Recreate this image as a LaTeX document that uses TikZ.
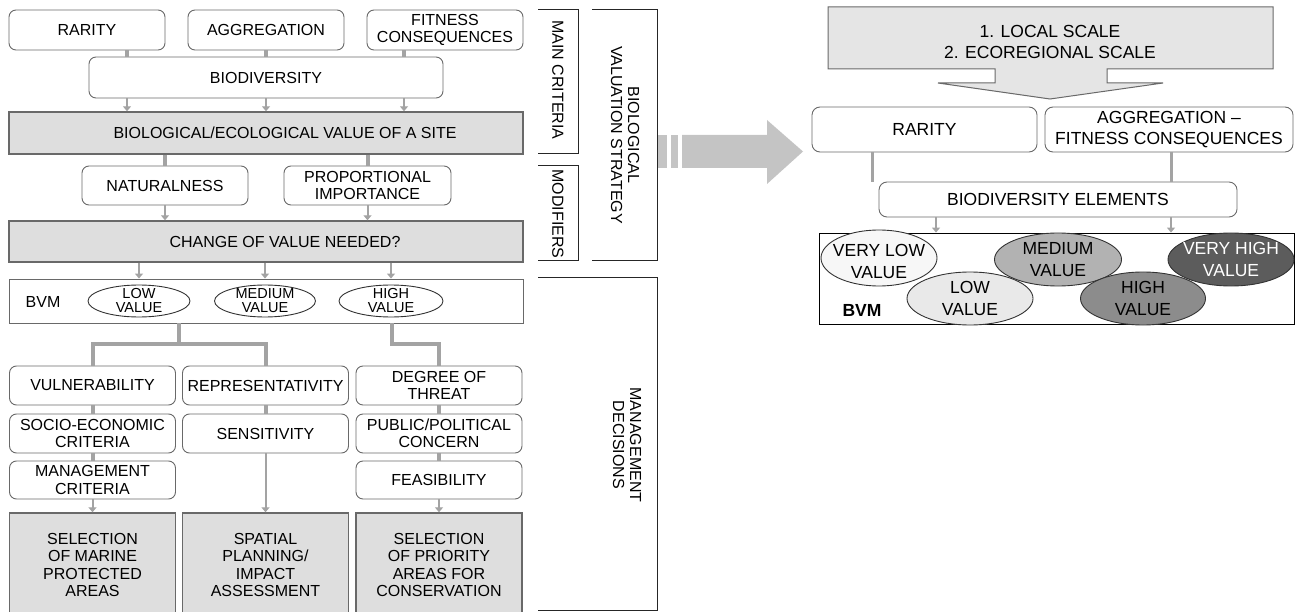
\documentclass[tikz,border=0pt]{standalone}
\usepackage{fontspec}
\setmainfont{Liberation Sans}
\usetikzlibrary{shapes.geometric,arrows.meta}

\definecolor{boxgray}{RGB}{105,105,105}
\definecolor{linegray}{RGB}{163,163,163}
\definecolor{fillgray}{RGB}{222,222,222}
\definecolor{arrowgray}{RGB}{196,196,196}
\definecolor{scalegray}{RGB}{229,229,229}
\definecolor{vlowfill}{RGB}{247,247,247}
\definecolor{lowfill}{RGB}{233,233,233}
\definecolor{medfill}{RGB}{178,178,178}
\definecolor{highfill}{RGB}{140,140,140}
\definecolor{vhighfill}{RGB}{92,92,92}

\newcommand{\lsize}{\fontsize{16}{17.5}\selectfont}
\newcommand{\rsize}{\fontsize{17.5}{21}\selectfont}

\tikzstyle{block} = [draw=boxgray, rectangle, rounded corners=7pt, fill=white, align=center, inner sep=0pt, line width=0.9pt, font=\lsize]
\tikzstyle{graybox} = [draw=boxgray, rectangle, fill=fillgray, align=center, inner sep=0pt, line width=1.4pt, font=\lsize]
\tikzstyle{oval} = [draw=black!80, ellipse, fill=white, inner sep=0pt, line width=0.9pt]
\tikzstyle{ovaltext} = [align=center, inner sep=0pt, font={\fontsize{14.5}{14}\selectfont}]
\tikzstyle{rblock} = [draw=boxgray, rectangle, rounded corners=8pt, fill=white, align=center, inner sep=0pt, line width=0.9pt, font=\rsize]
\tikzstyle{roval} = [draw=black!80, ellipse, inner sep=0pt, line width=0.9pt]
\tikzstyle{rovaltext} = [align=center, inner sep=0pt, font={\fontsize{17.5}{22}\selectfont}]
\tikzstyle{link} = [draw=linegray, line width=4pt]
\tikzstyle{rlink} = [draw=linegray, line width=3pt]
\tikzstyle{arrow} = [draw=linegray, line width=2pt, -{Triangle[width=8pt,length=5pt]}]
\tikzstyle{bracket} = [draw=black!85, line width=1pt]
\tikzstyle{sidetext} = [rotate=-90, align=center, inner sep=0pt, font={\fontsize{16}{17}\selectfont}]

\begin{document}
\begin{tikzpicture}[x=1pt, y=-1pt]
	\useasboundingbox (0,0) rectangle (1295,612);
	\clip (0,0) rectangle (1295,612);

	% Main criteria
	\node [block, minimum width=156pt, minimum height=40pt] (rarity) at (87,30) {RARITY};
	\node [block, minimum width=156pt, minimum height=40pt] (aggregation) at (266,30) {AGGREGATION};
	\node [block, minimum width=156pt, minimum height=40pt] (fitness) at (445,30) {FITNESS\\CONSEQUENCES};
	\node [block, minimum width=354pt, minimum height=41pt] (biodiv) at (266,77.5) {BIODIVERSITY};
	\node [graybox, minimum width=514pt, minimum height=42pt] (siteval) at (266,133) {\hspace*{38pt}BIOLOGICAL/ECOLOGICAL VALUE OF A SITE};

	\draw [link] ([xshift=40pt]rarity.south) -- ([xshift=40pt]rarity.south |- biodiv.north);
	\draw [link] (aggregation.south) -- (biodiv.north);
	\draw [link] ([xshift=-41pt]fitness.south) -- ([xshift=-41pt]fitness.south |- biodiv.north);
	\draw [arrow] ([xshift=-139pt]biodiv.south) -- ([xshift=-139pt]biodiv.south |- siteval.north);
	\draw [arrow] (biodiv.south) -- (siteval.north);
	\draw [arrow] ([xshift=138pt]biodiv.south) -- ([xshift=138pt]biodiv.south |- siteval.north);

	% Modifiers
	\node [block, minimum width=166pt, minimum height=39pt] (natural) at (165,185.5) {NATURALNESS};
	\node [block, minimum width=167pt, minimum height=39pt] (proport) at (367.5,185.5) {PROPORTIONAL\\IMPORTANCE};
	\node [graybox, minimum width=514pt, minimum height=41pt] (change) at (266,241.5) {\hspace*{38pt}CHANGE OF VALUE NEEDED?};

	\draw [link] (natural.north |- siteval.south) -- (natural.north);
	\draw [link] (proport.north |- siteval.south) -- (proport.north);
	\draw [arrow] (natural.south) -- (natural.south |- change.north);
	\draw [arrow] (proport.south) -- (proport.south |- change.north);

	% BVM
	\node [draw=boxgray, rectangle, line width=0.9pt, minimum width=514pt, minimum height=44pt] (bvm) at (266,301) {};
	\node [font=\lsize] (bvmlabel) at (43,302) {BVM};
	\node [oval, minimum width=102pt, minimum height=32pt] (low) at (139,301) {};
	\node [ovaltext] (lowtext) at (low) {LOW\\VALUE};
	\node [oval, minimum width=101pt, minimum height=32pt] (medium) at (265,301) {};
	\node [ovaltext] (mediumtext) at (medium) {MEDIUM\\VALUE};
	\node [oval, minimum width=104pt, minimum height=32pt] (high) at (391,301) {};
	\node [ovaltext] (hightext) at (high) {HIGH\\VALUE};

	\draw [arrow] (low |- change.south) -- (low |- bvm.north);
	\draw [arrow] (medium |- change.south) -- (medium |- bvm.north);
	\draw [arrow] (high |- change.south) -- (high |- bvm.north);

	% Management
	\node [block, minimum width=166pt, minimum height=39pt] (vulner) at (92.5,385.5) {VULNERABILITY};
	\node [block, minimum width=166pt, minimum height=39pt] (repres) at (265.5,385.5) {REPRESENTATIVITY};
	\node [block, minimum width=166pt, minimum height=39pt] (threat) at (439,385.5) {DEGREE OF\\THREAT};
	\node [block, minimum width=166pt, minimum height=39pt] (socio) at (92.5,433.5) {SOCIO-ECONOMIC\\CRITERIA};
	\node [block, minimum width=166pt, minimum height=39pt] (sensit) at (265.5,433.5) {SENSITIVITY};
	\node [block, minimum width=166pt, minimum height=39pt] (public) at (439,433.5) {PUBLIC/POLITICAL\\CONCERN};
	\node [block, minimum width=166pt, minimum height=38pt] (mgmtcrit) at (92.5,480) {MANAGEMENT\\CRITERIA};
	\node [block, minimum width=166pt, minimum height=38pt] (feasib) at (439,480) {FEASIBILITY};
	\node [graybox, minimum width=166pt, minimum height=104pt] (selmpa) at (92.5,565) {SELECTION\\OF MARINE\\PROTECTED\\AREAS};
	\node [graybox, minimum width=166pt, minimum height=104pt] (spatial) at (265.5,565) {SPATIAL\\PLANNING/\\IMPACT\\ASSESSMENT};
	\node [graybox, minimum width=166pt, minimum height=104pt] (selprio) at (439,565) {SELECTION\\OF PRIORITY\\AREAS FOR\\CONSERVATION};

	\coordinate (lowsplit) at (179,344);
	\coordinate (highsplit) at (392,344);
	\draw [link] (lowsplit |- bvm.south) -- (lowsplit);
	\draw [link] (vulner.north) |- (lowsplit) -| (repres.north);
	\draw [link] (highsplit |- bvm.south) -- (highsplit) -| (threat.north);

	\draw [link] (vulner.south) -- (socio.north);
	\draw [link] (socio.south) -- (mgmtcrit.north);
	\draw [arrow] (mgmtcrit.south) -- (selmpa.north);
	\draw [link] (repres.south) -- (sensit.north);
	\draw [arrow] (sensit.south) -- (spatial.north);
	\draw [link] (threat.south) -- (public.north);
	\draw [link] (public.south) -- (feasib.north);
	\draw [arrow] (feasib.south) -- (selprio.north);

	% Brackets
	\draw [bracket] (538,10) -- (578,10) -- (578,154) -- (538,154);
	\node [sidetext] (maincrit) at (558,80) {MAIN CRITERIA};
	\draw [bracket] (538,166) -- (578,166) -- (578,261) -- (538,261);
	\node [sidetext] (modifiers) at (558,214) {MODIFIERS};
	\draw [bracket] (592,10) -- (657,10) -- (657,261) -- (592,261);
	\node [sidetext] (bvstrategy) at (625,135) {BIOLOGICAL\\VALUATION STRATEGY};
	\draw [bracket] (538,278) -- (657,278) -- (657,610.5) -- (538,610.5);
	\node [sidetext] (mgmtdec) at (627,445) {MANAGEMENT\\DECISIONS};

	% Wide arrow
	\fill [arrowgray] (658,135) rectangle (667,168);
	\fill [arrowgray] (671,135) rectangle (678,168);
	\fill [arrowgray] (682,135) -- (767,135) -- (767,120) -- (803,151.5) -- (767,184) -- (767,168) -- (682,168) -- cycle;

	% Scales
	\filldraw [fill=scalegray, draw=boxgray, line width=1pt] (828,7) -- (1273,7) -- (1273,69) -- (1107,69) -- (1107,83) -- (1163,83) -- (1050,99) -- (938,83) -- (995,83) -- (995,69) -- (828,69) -- cycle;
	\node [font=\rsize, align=center] (scale) at (1050,42) {1. LOCAL SCALE\\2. ECOREGIONAL SCALE};

	% Criteria
	\node [rblock, minimum width=225pt, minimum height=45pt] (rarity2) at (924.5,129.5) {RARITY};
	\node [rblock, minimum width=248pt, minimum height=45pt] (aggfit) at (1169,129.5) {AGGREGATION –\\FITNESS CONSEQUENCES};
	\node [rblock, minimum width=358pt, minimum height=35pt] (bioelem) at (1058,199.5) {BIODIVERSITY ELEMENTS};
	\node [draw=black, rectangle, line width=0.9pt, inner sep=0pt, minimum width=475pt, minimum height=91pt] (bvm2) at (1056.5,278.5) {};

	\coordinate (raritydrop) at ([xshift=-52.5pt]rarity2.south);
	\coordinate (aggdrop) at ([xshift=2pt]aggfit.south);
	\draw [rlink] (raritydrop) -- (raritydrop |- bioelem.north);
	\draw [rlink] (aggdrop) -- (aggdrop |- bioelem.north);
	\draw [arrow] ([xshift=-122pt]bioelem.south) -- ([xshift=-122pt]bioelem.south |- bvm2.north);
	\draw [arrow] (aggdrop |- bioelem.south) -- (aggdrop |- bvm2.north);

	% Value classes
	\node [roval, fill=vlowfill, minimum width=116pt, minimum height=56pt] (vlow) at (879,258) {};
	\node [rovaltext] (vlowtext) at (879,261) {VERY LOW\\VALUE};
	\node [roval, fill=medfill, minimum width=127pt, minimum height=53pt] (medium2) at (1058,259.5) {};
	\node [rovaltext] (medium2text) at (medium2) {MEDIUM\\VALUE};
	\node [roval, fill=vhighfill, minimum width=126pt, minimum height=53pt] (vhigh) at (1231,259.5) {};
	\node [rovaltext, text=white] (vhightext) at (vhigh) {VERY HIGH\\VALUE};
	\node [roval, fill=lowfill, minimum width=126pt, minimum height=53pt] (low2) at (970,298.5) {};
	\node [rovaltext] (low2text) at (low2) {LOW\\VALUE};
	\node [roval, fill=highfill, minimum width=125pt, minimum height=53pt] (high2) at (1143,298.5) {};
	\node [rovaltext] (high2text) at (high2) {HIGH\\VALUE};
	\node [font=\rsize\bfseries] (bvmlabel2) at (862,310) {BVM};
\end{tikzpicture}
\end{document}
